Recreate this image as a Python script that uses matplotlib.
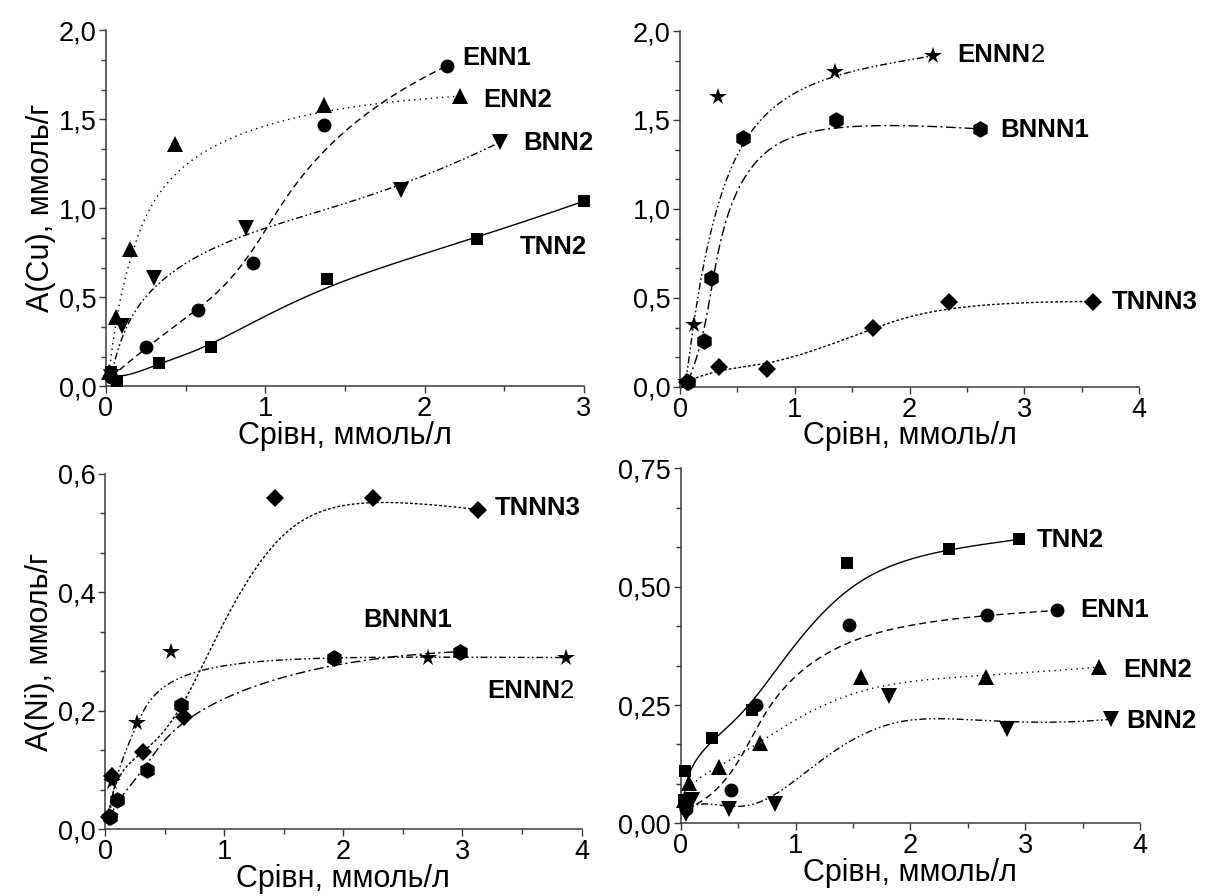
import numpy as np
import matplotlib
matplotlib.use("Agg")
import matplotlib.pyplot as plt
from matplotlib.ticker import MultipleLocator, FuncFormatter

plt.rcParams['font.family'] = ['Liberation Sans', 'DejaVu Sans']

# ---------------- data ----------------
# Top-left: A(Cu)
cu_tnn2_x = [0.03, 0.07, 0.33, 0.66, 1.39, 2.33, 3.00]
cu_tnn2_y = [0.08, 0.03, 0.13, 0.22, 0.60, 0.83, 1.04]
cu_enn1_x = [0.03, 0.25, 0.58, 0.92, 1.37, 2.14]
cu_enn1_y = [0.05, 0.22, 0.43, 0.69, 1.47, 1.80]
cu_enn2_x = [0.02, 0.06, 0.15, 0.43, 1.37, 2.22]
cu_enn2_y = [0.08, 0.39, 0.77, 1.36, 1.58, 1.63]
cu_bnn2_x = [0.03, 0.10, 0.30, 0.88, 1.85, 2.47]
cu_bnn2_y = [0.05, 0.34, 0.61, 0.89, 1.10, 1.37]

# Top-right: A(Cu)
cu_ennn2_x = [0.05, 0.12, 0.33, 1.35, 2.20]
cu_ennn2_y = [0.03, 0.35, 1.63, 1.77, 1.86]
cu_bnnn1_x = [0.07, 0.21, 0.27, 0.55, 1.36, 2.61]
cu_bnnn1_y = [0.03, 0.26, 0.61, 1.40, 1.50, 1.45]
cu_tnnn3_x = [0.06, 0.34, 0.76, 1.68, 2.34, 3.60]
cu_tnnn3_y = [0.03, 0.11, 0.10, 0.33, 0.48, 0.48]

# Bottom-left: A(Ni)
ni_tnnn3_x = [0.03, 0.06, 0.32, 0.66, 1.43, 2.25, 3.13]
ni_tnnn3_y = [0.02, 0.09, 0.13, 0.19, 0.56, 0.56, 0.54]
ni_bnnn1_x = [0.04, 0.10, 0.35, 0.64, 1.92, 2.98]
ni_bnnn1_y = [0.02, 0.05, 0.10, 0.21, 0.29, 0.30]
ni_ennn2_x = [0.04, 0.06, 0.27, 0.55, 2.71, 3.87]
ni_ennn2_y = [0.02, 0.08, 0.18, 0.30, 0.29, 0.29]

# Bottom-right: A(Ni)
ni_tnn2_x = [0.03, 0.04, 0.27, 0.62, 1.45, 2.34, 2.95]
ni_tnn2_y = [0.05, 0.11, 0.18, 0.24, 0.55, 0.58, 0.60]
ni_enn1_x = [0.05, 0.44, 0.66, 1.47, 2.67, 3.28]
ni_enn1_y = [0.03, 0.07, 0.25, 0.42, 0.44, 0.45]
ni_enn2_x = [0.03, 0.07, 0.33, 0.69, 1.57, 2.66, 3.64]
ni_enn2_y = [0.05, 0.085, 0.12, 0.17, 0.31, 0.31, 0.33]
ni_bnn2_x = [0.05, 0.10, 0.42, 0.82, 1.81, 2.84, 3.75]
ni_bnn2_y = [0.02, 0.05, 0.03, 0.04, 0.27, 0.20, 0.22]

xlabel = "Срівн, ммоль/л"
ylabel_cu = "A(Cu), ммоль/г"
ylabel_ni = "A(Ni), ммоль/г"


def bspline(xs, ys, n=400, k=3):
    """Clamped uniform B-spline using the data points as control points."""
    P = np.column_stack([xs, ys]).astype(float)
    m = len(P)
    k = min(k, m - 1)
    knots = np.concatenate([np.zeros(k), np.linspace(0, 1, m - k + 1), np.ones(k)])
    t = np.linspace(0, 1, n)
    nb = len(knots) - 1
    N = np.zeros((n, nb))
    for i in range(nb):
        N[:, i] = ((t >= knots[i]) & (t < knots[i + 1])).astype(float)
    N[t >= 1.0, m - 1] = 1.0
    for p in range(1, k + 1):
        Nn = np.zeros((n, nb - p))
        for i in range(nb - p):
            term = np.zeros(n)
            d1 = knots[i + p] - knots[i]
            d2 = knots[i + p + 1] - knots[i + 1]
            if d1 > 0:
                term += (t - knots[i]) / d1 * N[:, i]
            if d2 > 0:
                term += (knots[i + p + 1] - t) / d2 * N[:, i + 1]
            Nn[:, i] = term
        N = Nn
    C = N @ P
    return C[:, 0], C[:, 1]


LS = {
    'solid': '-',
    'dash': (0, (5, 3)),
    'dot': (0, (1, 3)),
    'dashdot': (0, (7, 2.5, 1.5, 2.5)),
    'dashdotdot': (0, (5, 2, 1.2, 2, 1.2, 2)),
    'short': (0, (2, 1.5)),
}

fig = plt.figure(figsize=(12.24, 8.96), dpi=100)
ax_tl = fig.add_axes([0.0866, 0.5689, 0.4771 - 0.0866, 0.9662 - 0.5689])
ax_tr = fig.add_axes([0.5556, 0.5681, 0.9306 - 0.5556, 0.9654 - 0.5681])
ax_bl = fig.add_axes([0.0858, 0.0745, 0.4752 - 0.0858, 0.4710 - 0.0745])
ax_br = fig.add_axes([0.5561, 0.0811, 0.9314 - 0.5561, 0.4773 - 0.0811])

TICK_FS = 19.5
LAB_FS = 22
ANN_FS = 18.5
SPINE_C = '#3a3a3a'


def style(ax, xmax, ymax, ymajor, ydec):
    ax.set_xlim(0, xmax)
    ax.set_ylim(0, ymax)
    for s in ['top', 'right']:
        ax.spines[s].set_visible(False)
    for s in ['left', 'bottom']:
        ax.spines[s].set_color(SPINE_C)
        ax.spines[s].set_linewidth(1.1)
    ax.xaxis.set_major_locator(MultipleLocator(1))
    ax.xaxis.set_minor_locator(MultipleLocator(0.5))
    ax.yaxis.set_major_locator(MultipleLocator(ymajor))
    ax.yaxis.set_minor_locator(MultipleLocator(ymajor / 3))
    ax.xaxis.set_major_formatter(FuncFormatter(lambda v, p: f"{v:.0f}"))
    ax.yaxis.set_major_formatter(FuncFormatter(lambda v, p: f"{v:.{ydec}f}".replace('.', ',')))
    ax.tick_params(which='major', direction='out', length=5, width=1.0, color=SPINE_C,
                   labelsize=TICK_FS, pad=2)
    ax.tick_params(which='minor', direction='out', length=3.5, width=1.0, color=SPINE_C)
    ax.set_xlabel(xlabel, fontsize=LAB_FS, labelpad=-1)
    ax.set_facecolor('none')


def series(ax, x, y, marker, ls, ms=10):
    cx, cy = bspline(x, y)
    ax.plot(cx, cy, color='black', lw=1.0, linestyle=LS[ls], clip_on=False, zorder=2)
    ax.plot(x, y, linestyle='none', marker=marker, ms=ms, color='black',
            markeredgewidth=0, clip_on=False, zorder=3)


def label(ax, x, y, txt):
    ax.text(x, y, txt, fontsize=ANN_FS, fontweight='bold', ha='left', va='center',
            clip_on=False)


def label_mixed(ax, x, y, bold, plain):
    t = ax.text(x, y, bold, fontsize=ANN_FS, fontweight='bold', ha='left', va='center',
                clip_on=False)
    ax.annotate(plain, xy=(1, 0), xycoords=t, fontsize=ANN_FS, ha='left', va='bottom',
                annotation_clip=False)


# Top-left
style(ax_tl, 3, 2.0, 0.5, 1)
ax_tl.set_ylabel(ylabel_cu, fontsize=LAB_FS, labelpad=2)
series(ax_tl, cu_tnn2_x, cu_tnn2_y, 's', 'solid', ms=9)
series(ax_tl, cu_enn1_x, cu_enn1_y, 'o', 'dash', ms=10)
series(ax_tl, cu_enn2_x, cu_enn2_y, '^', 'dot', ms=11)
series(ax_tl, cu_bnn2_x, cu_bnn2_y, 'v', 'dashdotdot', ms=11)
label(ax_tl, 2.235, 1.844, "ENN1")
label(ax_tl, 2.367, 1.608, "ENN2")
label(ax_tl, 2.618, 1.367, "BNN2")
label(ax_tl, 2.60, 0.783, "TNN2")

# Top-right
style(ax_tr, 4, 2.0, 0.5, 1)
series(ax_tr, cu_ennn2_x, cu_ennn2_y, '*', 'dashdotdot', ms=13)
series(ax_tr, cu_bnnn1_x, cu_bnnn1_y, 'h', 'dashdot', ms=12)
series(ax_tr, cu_tnnn3_x, cu_tnnn3_y, 'D', 'short', ms=9)
label_mixed(ax_tr, 2.42, 1.865, "ENNN", "2")
label(ax_tr, 2.787, 1.444, "BNNN1")
label(ax_tr, 3.763, 0.478, "TNNN3")

# Bottom-left
style(ax_bl, 4, 0.6, 0.2, 1)
ax_bl.set_ylabel(ylabel_ni, fontsize=LAB_FS, labelpad=2)
series(ax_bl, ni_tnnn3_x, ni_tnnn3_y, 'D', 'short', ms=9)
series(ax_bl, ni_bnnn1_x, ni_bnnn1_y, 'h', 'dashdot', ms=12)
series(ax_bl, ni_ennn2_x, ni_ennn2_y, '*', 'dashdotdot', ms=13)
label(ax_bl, 2.164, 0.354, "BNNN1")
label_mixed(ax_bl, 3.205, 0.233, "ENNN", "2")
label(ax_bl, 3.272, 0.542, "TNNN3")

# Bottom-right
style(ax_br, 4, 0.75, 0.25, 2)
series(ax_br, ni_tnn2_x, ni_tnn2_y, 's', 'solid', ms=9)
series(ax_br, ni_enn1_x, ni_enn1_y, 'o', 'dash', ms=10)
series(ax_br, ni_enn2_x, ni_enn2_y, '^', 'dot', ms=11)
series(ax_br, ni_bnn2_x, ni_bnn2_y, 'v', 'dashdotdot', ms=11)
label(ax_br, 3.10, 0.599, "TNN2")
label(ax_br, 3.476, 0.451, "ENN1")
label(ax_br, 3.85, 0.324, "ENN2")
label(ax_br, 3.876, 0.216, "BNN2")

fig.savefig("out.png", dpi=100, facecolor='white')
